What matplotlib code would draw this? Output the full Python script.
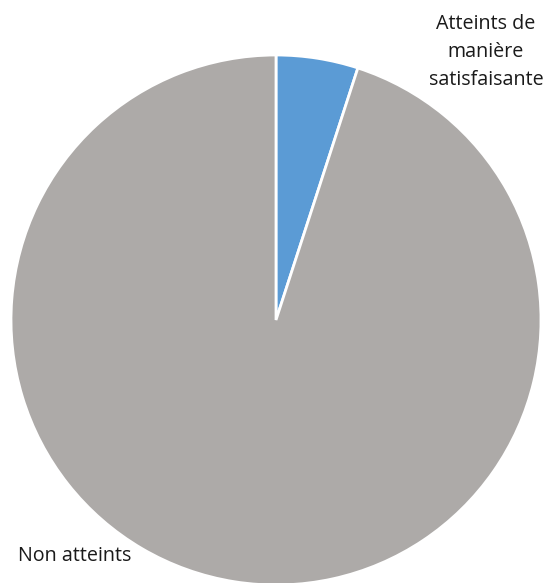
import matplotlib
matplotlib.use("Agg")
import matplotlib.pyplot as plt

# Data
labels = ["Atteints de\nmanière\nsatisfaisante", "Non atteints"]
values = [5, 95]
colors = ["#5B9BD5", "#ADAAA8"]

W, H = 549, 583
fig = plt.figure(figsize=(W / 100, H / 100), dpi=100)

# pie centre ~(276, 320) px, radius ~265 px
cx, cy, r = 276, 320, 265
ax = fig.add_axes([(cx - r) / W, (H - cy - r) / H, 2 * r / W, 2 * r / H])
ax.pie(values, colors=colors, startangle=90, counterclock=False,
       radius=1, wedgeprops=dict(edgecolor="white", linewidth=2))
ax.set_xlim(-1, 1)
ax.set_ylim(-1, 1)
ax.set_aspect("auto")
ax.axis("off")

font = dict(family=["Open Sans", "DejaVu Sans"], fontsize=14.2, color="#1a1a1a")
fig.text(486 / W, 1 - 52 / H, labels[0], ha="center", va="center",
         linespacing=1.55, **font)
fig.text(18 / W, 1 - 556 / H, labels[1], ha="left", va="center", **font)

fig.savefig("out.png", dpi=100)
